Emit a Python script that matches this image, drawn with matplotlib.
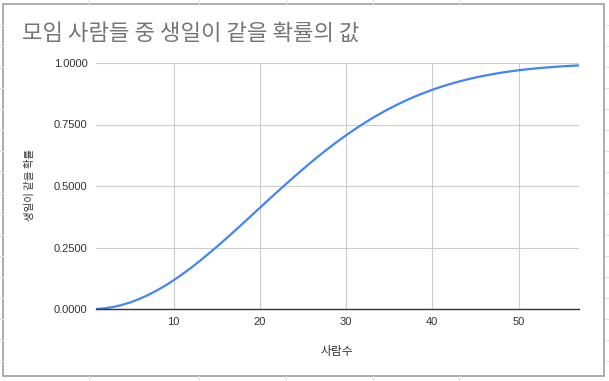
import matplotlib.pyplot as plt
from matplotlib.lines import Line2D
from matplotlib.patches import Rectangle
from matplotlib.ticker import FormatStrFormatter

plt.rcParams['font.family'] = ['Noto Sans CJK KR', 'DejaVu Sans']

people = list(range(1, 58))
prob = [0.0000, 0.0027, 0.0082, 0.0164, 0.0271, 0.0405, 0.0562, 0.0743, 0.0946, 0.1169,
        0.1411, 0.1670, 0.1944, 0.2231, 0.2529, 0.2836, 0.3150, 0.3469, 0.3791, 0.4114,
        0.4437, 0.4757, 0.5073, 0.5383, 0.5687, 0.5982, 0.6269, 0.6545, 0.6810, 0.7063,
        0.7305, 0.7533, 0.7750, 0.7953, 0.8144, 0.8322, 0.8487, 0.8641, 0.8782, 0.8912,
        0.9032, 0.9140, 0.9239, 0.9329, 0.9410, 0.9483, 0.9548, 0.9606, 0.9658, 0.9704,
        0.9744, 0.9780, 0.9811, 0.9839, 0.9863, 0.9883, 0.9901]
x_ticks = [10, 20, 30, 40, 50]
y_ticks = [0, 0.25, 0.5, 0.75, 1.0]

W, H = 609, 381
fig = plt.figure(figsize=(W / 100, H / 100), dpi=100)

# spreadsheet cell lines peeking out around the chart
sheet = '#e2e2e2'
for cx in [89, 199, 286, 373, 459]:
    fig.lines.append(Line2D([cx / W] * 2, [1, 1 - 4 / H], transform=fig.transFigure, color=sheet, lw=0.8))
    fig.lines.append(Line2D([cx / W] * 2, [0, 5 / H], transform=fig.transFigure, color=sheet, lw=0.8))
for cy in range(25, 376, 21):
    yy = 1 - cy / H
    fig.lines.append(Line2D([0, 3 / W], [yy] * 2, transform=fig.transFigure, color=sheet, lw=0.8))
    fig.lines.append(Line2D([605 / W, 1], [yy] * 2, transform=fig.transFigure, color=sheet, lw=0.8))

# chart frame
fig.patches.append(Rectangle((3 / W, 5 / H), 601 / W, 372 / H, transform=fig.transFigure,
                             fill=False, edgecolor='#9e9e9e', lw=1.2))

ax = fig.add_axes([96 / W, (H - 309) / H, (579 - 96) / W, (309 - 63) / H])
ax.plot(people, prob, color='#4285f4', lw=1.6, solid_capstyle='butt', zorder=3)

ax.set_xlim(1, 57)
ax.set_ylim(0, 1)
ax.set_xticks(x_ticks)
ax.set_yticks(y_ticks)
ax.yaxis.set_major_formatter(FormatStrFormatter('%.4f'))
ax.grid(True, color='#cccccc', lw=0.8)
ax.tick_params(length=0, labelsize=8, labelcolor='#333333', pad=6)
for lbl in ax.get_xticklabels() + ax.get_yticklabels():
    lbl.set_family(['Liberation Sans', 'DejaVu Sans'])
for s in ['top', 'right', 'left']:
    ax.spines[s].set_visible(False)
ax.spines['bottom'].set_color('#333333')
ax.spines['bottom'].set_linewidth(1.0)
ax.spines['bottom'].set_zorder(4)

fig.text(22 / W, 1 - 33 / H, '모임 사람들 중 생일이 같을 확률의 값', fontsize=16,
         color='#757575', va='center', ha='left', fontweight='light')
fig.text(30 / W, 1 - 185 / H, '생일이 같을 확률', fontsize=7.5, rotation=90,
         color='#333333', va='center', ha='center')
fig.text(337 / W, 1 - 351 / H, '사람수', fontsize=8.5, color='#333333',
         va='center', ha='center')

fig.savefig('out.png', dpi=100)
